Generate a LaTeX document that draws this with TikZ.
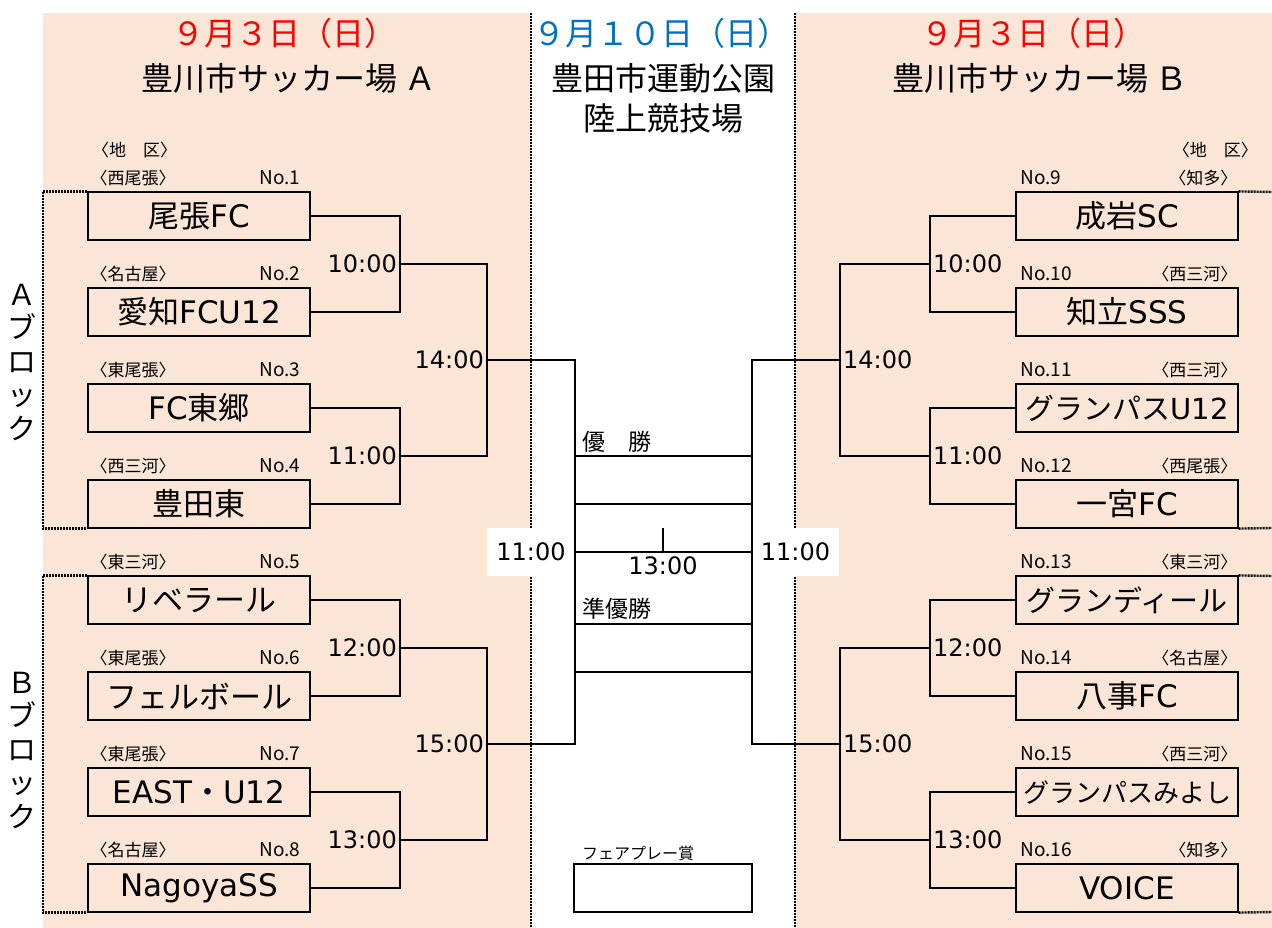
\documentclass[tikz,border=0pt]{standalone}
\usepackage{fontspec}
\setmainfont{Noto Sans CJK JP}
\newfontfamily\latn{DejaVu Sans}
\usetikzlibrary{positioning}
\definecolor{peach}{HTML}{FBE5D6}
\definecolor{dayred}{HTML}{FF0000}
\definecolor{dayblue}{HTML}{0070C0}
\newcommand{\fsz}[1]{\fontsize{#1}{#1}\selectfont}
\tikzset{
team/.style={draw, line width=1.2pt, minimum width=222pt, minimum height=48pt, inner sep=0pt, font=\fsz{31}},
reg/.style={inner sep=0pt, font=\fsz{17}},
num/.style={inner sep=0pt, font=\fsz{19}},
tm/.style={inner sep=3pt, font=\latn\fsz{24}},
ttl/.style={inner sep=0pt, font=\fsz{32}},
blk/.style={align=center, inner sep=0pt, font={\fontsize{29}{33.5}\selectfont}},
dotline/.style={line width=2.4pt, dash pattern=on 2pt off 1pt},
br/.style={line width=1.1pt}
}

\begin{document}
\begin{tikzpicture}[x=1pt,y=-1pt]
\useasboundingbox (0,0) rectangle (1272,928);

% venue panels
\fill[peach] (43,13) rectangle (531,928);
\fill[peach] (795,13) rectangle (1272,928);
\draw[dotline] (531,13) -- (531,928);
\draw[dotline] (795,13) -- (795,928);

% headings
\node[ttl, text=dayred] (dayA) at (284,33) {９月３日（日）};
\node[ttl] (venA) at (289,78) {豊川市サッカー場 Ａ};
\node[ttl, text=dayblue] (dayF) at (661,33) {９月１０日（日）};
\node[ttl] (venF) at (663,78) {豊田市運動公園};
\node[ttl] (venF2) at (663,118) {陸上競技場};
\node[ttl, text=dayred] (dayB) at (1033,33) {９月３日（日）};
\node[ttl] (venB) at (1040,78) {豊川市サッカー場 Ｂ};

\node[blk] (blkA) at (22,362) {Ａ\\ブ\\ロ\\ッ\\ク};
\node[blk] (blkB) at (22,750) {Ｂ\\ブ\\ロ\\ッ\\ク};

\node[reg, anchor=base west] (areaA) at (92,157) {〈地　区〉};
\node[reg, anchor=base east] (areaB) at (1258,157) {〈地　区〉};

% teams
\foreach \name/\reg [count=\i] in {尾張{\latn FC}/西尾張,愛知{\latn FCU12}/名古屋,{\latn FC}東郷/東尾張,豊田東/西三河,
  リベラール/東三河,フェルボール/東尾張,{\latn EAST}・{\latn U12}/東尾張,{\latn NagoyaSS}/名古屋}{
  \node[team] (t\i) at (199,{120+96*\i}) {\name};
  \node[reg, anchor=base west] (r\i) at ([xshift=3pt,yshift=7pt]t\i.north west) {〈\reg〉};
  \node[num, anchor=base east] (n\i) at ([xshift=-10pt,yshift=7pt]t\i.north east) {No.\i};
}
\foreach \name/\reg [count=\i from 9] in {成岩{\latn SC}/知多,知立{\latn SSS}/西三河,{\fsz{29}グランパス\latn U12}/西三河,一宮{\latn FC}/西尾張,
  {\fsz{29}グランディール}/東三河,八事{\latn FC}/名古屋,{\fsz{26}グランパスみよし}/西三河,{\latn VOICE}/知多}{
  \node[team] (t\i) at (1127,{-648+96*\i}) {\name};
  \node[num, anchor=base west] (n\i) at ([xshift=5pt,yshift=7pt]t\i.north west) {No.\i};
  \node[reg, anchor=base east] (r\i) at ([xshift=-1pt,yshift=7pt]t\i.north east) {〈\reg〉};
}

% block frames
\draw[dotline] (t1.north west) -| (43,360) |- (t4.south west);
\draw[dotline] (t5.north west) -| (43,744) |- (t8.south west);
\draw[dotline] (t9.north east) -- (1272,192);
\draw[dotline] (t12.south east) -- (1272,528);
\draw[dotline] (t13.north east) -- (1272,576);
\draw[dotline] (t16.south east) -- (1272,912);

% final time boxes
\node[tm, fill=white, minimum width=88pt, minimum height=48pt] (w1) at (531,552) {11:00};
\node[tm, fill=white, minimum width=87pt, minimum height=48pt] (w2) at (795.5,552) {11:00};

% bracket joints
\coordinate (j1) at (400,264); \coordinate (j2) at (400,456);
\coordinate (j3) at (400,648); \coordinate (j4) at (400,840);
\coordinate (s1) at (487,360); \coordinate (s2) at (487,744);
\coordinate (j5) at (930,264); \coordinate (j6) at (930,456);
\coordinate (j7) at (930,648); \coordinate (j8) at (930,840);
\coordinate (s3) at (840,360); \coordinate (s4) at (840,744);
\coordinate (fL) at (575,552); \coordinate (fR) at (752,552);

\draw[br] (t1.east) -| (j1) |- (t2.east);
\draw[br] (t3.east) -| (j2) |- (t4.east);
\draw[br] (t5.east) -| (j3) |- (t6.east);
\draw[br] (t7.east) -| (j4) |- (t8.east);
\draw[br] (j1) -| (s1) |- (j2);
\draw[br] (j3) -| (s2) |- (j4);
\draw[br] (s1) -| (fL) |- (s2);

\draw[br] (t9.west) -| (j5) |- (t10.west);
\draw[br] (t11.west) -| (j6) |- (t12.west);
\draw[br] (t13.west) -| (j7) |- (t14.west);
\draw[br] (t15.west) -| (j8) |- (t16.west);
\draw[br] (j5) -| (s3) |- (j6);
\draw[br] (j7) -| (s4) |- (j8);
\draw[br] (s3) -| (fR) |- (s4);

\node[tm, anchor=east] (m1) at (j1) {10:00};
\node[tm, anchor=east] (m2) at (j2) {11:00};
\node[tm, anchor=east] (m3) at (j3) {12:00};
\node[tm, anchor=east] (m4) at (j4) {13:00};
\node[tm, anchor=east] (m5) at (s1) {14:00};
\node[tm, anchor=east] (m6) at (s2) {15:00};
\node[tm, anchor=west] (m7) at (j5) {10:00};
\node[tm, anchor=west] (m8) at (j6) {11:00};
\node[tm, anchor=west] (m9) at (j7) {12:00};
\node[tm, anchor=west] (m10) at (j8) {13:00};
\node[tm, anchor=west] (m11) at (s3) {14:00};
\node[tm, anchor=west] (m12) at (s4) {15:00};

% final
\foreach \y in {456,504,552,624,672}
  \draw[br] (575,\y) -- (752,\y);
\draw[br] (663,552) -- (663,528);
\node[tm] (m13) at (663,566) {13:00};
\node[tm, anchor=west, font=\fsz{23}] (win) at (579,442) {優　勝};
\node[tm, anchor=west, font=\fsz{23}] (run) at (579,609) {準優勝};

% fair play
\node[draw, line width=1.2pt, minimum width=178pt, minimum height=48pt] (fair) at (663,888) {};
\node[reg, anchor=base west, font=\fsz{16}] (fairlbl) at (582,859) {フェアプレー賞};
\end{tikzpicture}
\end{document}
